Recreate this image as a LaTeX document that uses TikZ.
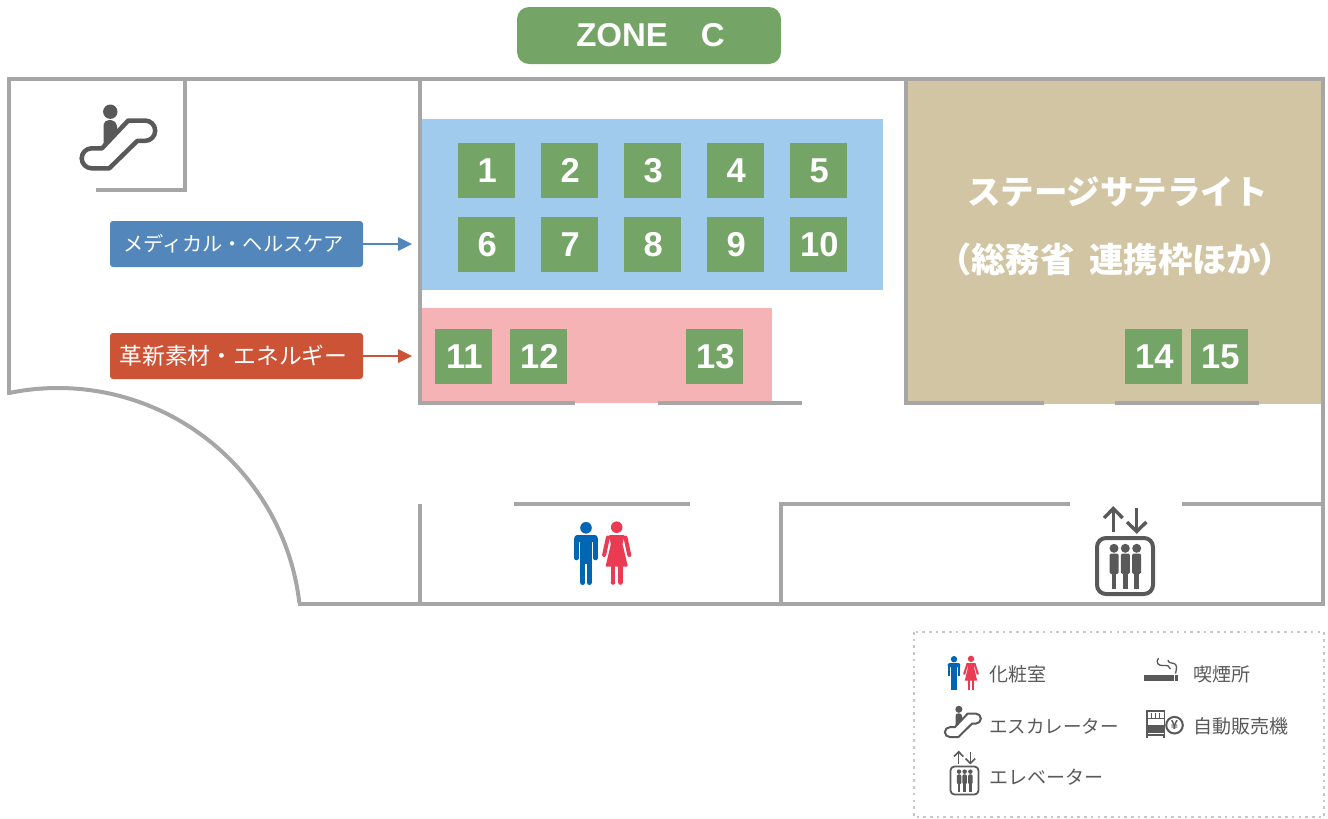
\documentclass[tikz,border=0pt]{standalone}
\usepackage{fontspec}
\setmainfont{Liberation Sans}
\newfontfamily\cjk{Noto Sans CJK JP}
\definecolor{wallc}{HTML}{A6A6A6}
\definecolor{greenc}{HTML}{74A566}
\definecolor{bluefill}{HTML}{A0CBEC}
\definecolor{pinkfill}{HTML}{F5B3B5}
\definecolor{tanfill}{HTML}{D2C5A3}
\definecolor{bluelab}{HTML}{5387BB}
\definecolor{redlab}{HTML}{CC5335}
\definecolor{icon}{HTML}{595959}
\definecolor{manc}{HTML}{0066B3}
\definecolor{womanc}{HTML}{EB3B52}
\definecolor{dotc}{HTML}{C8C8C8}
\newcommand{\bn}[1]{\raisebox{-1.2pt}{\hspace*{1.5pt}#1}}
\tikzset{
  x=1pt,y=-1pt,
  wall/.style={draw=wallc,line width=4pt,line cap=rect,line join=miter},
  booth/.style={fill=greenc,text=white,minimum width=57pt,minimum height=55pt,inner sep=0pt,font=\fontsize{34.5}{34.5}\selectfont\bfseries},
  lab/.style={rounded corners=3pt,minimum width=253pt,minimum height=46pt,inner sep=0pt,text=white,font=\cjk},
  legtext/.style={anchor=west,inner sep=0pt,text=icon,font=\cjk\fontsize{19}{19}\selectfont},
  stage/.style={text=white,inner sep=0pt,font=\cjk\bfseries\fontsize{33.5}{33.5}\selectfont},
}
\newcommand{\escpath}{%
  (47.3,15.5) -- (64,15.5) .. controls (69.6,15.5) and (74.2,20.1) .. (74.2,25.7)
  .. controls (74.2,31.3) and (69.6,35.9) .. (64,35.9) -- (56.3,35.9) -- (28.3,63.3) -- (10.7,63.3)
  .. controls (5.2,63.3) and (.7,58.8) .. (.7,53.3) .. controls (.7,47.8) and (5.2,43.3) .. (10.7,43.3)
  -- (21,43.3) -- cycle}
\newcommand{\escbody}{%
  \fill (29.3,6.7) circle (7.2);
  \fill[rounded corners=2pt] (22.5,18) -- (26,15) -- (32,15) -- (36,19) -- (36,27) -- (24,41) -- (22.5,43) -- cycle;
}
\newcommand{\manicon}{%
  \fill (0,5.8) circle (5.8);
  \fill[rounded corners=3pt] (-11.7,13) rectangle (11.7,20);
  \fill (-6,14) rectangle (6,42);
  \draw[line width=4.6pt,line cap=round] (-9.4,17) -- (-9.4,36);
  \draw[line width=4.6pt,line cap=round] (9.4,17) -- (9.4,36);
  \draw[line width=5.2pt,line cap=round] (-3.2,40) -- (-3.2,60.4);
  \draw[line width=5.2pt,line cap=round] (3.2,40) -- (3.2,60.4);
}
\newcommand{\womanicon}{%
  \fill (0,5.2) circle (5.8);
  \fill[rounded corners=1pt] (-8,13) -- (8,13) -- (5.8,22) -- (11.2,44.7) -- (-11.2,44.7) -- (-5.8,22) -- cycle;
  \draw[line width=4pt,line cap=round] (-8.8,15.5) -- (-12.6,33);
  \draw[line width=4pt,line cap=round] (8.8,15.5) -- (12.6,33);
  \fill (-6,44) rectangle (-1.4,60.5);
  \fill (1.4,44) rectangle (6,60.5);
  \fill (-3.7,60.5) circle (2.3) (3.7,60.5) circle (2.3);
}
\newcommand{\elevpeople}{%
  \foreach \px in {18,29.3,40.7}{
    \fill (\px,41.3) circle (4.5);
    \fill[rounded corners=1.5pt] (\px-4.5,46.5) rectangle (\px+4.5,67);
    \fill (\px-2.4,65) rectangle (\px+2.4,82);
  }
}
\begin{document}
\begin{tikzpicture}[x=1pt,y=-1pt]
\useasboundingbox (0,0) rectangle (1328,819);
% fills
\fill[bluefill] (421,119) rectangle (883,290);
\fill[pinkfill] (421,308) rectangle (772,403);
\fill[tanfill] (906,79) rectangle (1323,404);
% walls
\draw[wall] (9,393) -- (9,79.3) -- (1323,79.3) -- (1323,603.7) -- (300,603.7);
\draw[wall,line cap=butt] plot[domain=-101.6:-6.6,samples=80,smooth] ({58+243*cos(\x)},{631+243*sin(\x)});
\draw[wall] (185,79) -- (185,190) -- (98,190);
\draw[wall] (420,79) -- (420,403) -- (573,403);
\draw[wall] (660,403) -- (800,403);
\draw[wall] (906,79) -- (906,403) -- (1042,403);
\draw[wall] (1117,403) -- (1257,403);
\draw[wall] (420,506) -- (420,603);
\draw[wall] (516,504) -- (688,504);
\draw[wall] (1323,504) -- (1184,504);
\draw[wall] (1068,504) -- (781,504) -- (781,603);
% zone title
\node[fill=greenc,rounded corners=12pt,minimum width=264pt,minimum height=57pt,inner sep=0pt,text=white,font=\fontsize{33}{33}\selectfont\bfseries] (zone) at (649,35.5) {\hspace*{3pt}ZONE\hspace{33pt}C};
% booths
\node[booth] (b1) at (486.5,170.5) {\bn{1}};
\node[booth] (b2) at (569.5,170.5) {\bn{2}};
\node[booth] (b3) at (652.5,170.5) {\bn{3}};
\node[booth] (b4) at (735.5,170.5) {\bn{4}};
\node[booth] (b5) at (818.5,170.5) {\bn{5}};
\node[booth] (b6) at (486.5,244.5) {\bn{6}};
\node[booth] (b7) at (569.5,244.5) {\bn{7}};
\node[booth] (b8) at (652.5,244.5) {\bn{8}};
\node[booth] (b9) at (735.5,244.5) {\bn{9}};
\node[booth] (b10) at (818.5,244.5) {\bn{10}};
\node[booth] (b11) at (463.5,356.5) {\bn{11}};
\node[booth] (b12) at (538.5,356.5) {\bn{12}};
\node[booth] (b13) at (714.5,356.5) {\bn{13}};
\node[booth] (b14) at (1153.5,356.5) {\bn{14}};
\node[booth] (b15) at (1219.5,356.5) {\bn{15}};
% stage text
\node[stage] (st1) at (1117.5,192) {ステージサテライト};
\node[stage,anchor=west,font=\cjk\bfseries\fontsize{34.3}{34.3}\selectfont] (st2) at (937,259) {（総務省\hspace{15pt}連携枠ほか\hspace{-2pt}）};
% labels
\node[lab,fill=bluelab,font=\cjk\fontsize{20.2}{20.2}\selectfont] (med) at (236.5,244) {\hspace*{-6pt}メディカル・ヘルスケア};
\node[lab,fill=redlab,font=\cjk\fontsize{22.8}{22.8}\selectfont] (ene) at (236.5,356) {\hspace*{-6pt}革新素材・エネルギー};
\coordinate (medend) at (412,244);
\coordinate (eneend) at (412,356);
\draw[bluelab,line width=1.6pt] (med.east) -- (398,244);
\fill[bluelab] (398,237) -- (medend) -- (398,251) -- cycle;
\draw[redlab,line width=1.6pt] (ene.east) -- (398,356);
\fill[redlab] (398,349) -- (eneend) -- (398,363) -- cycle;
% icons on plan
\begin{scope}[shift={(81,105)},fill=icon,draw=icon]
  \escbody
  \draw[line width=4.5pt,line join=round] \escpath;
\end{scope}
\begin{scope}[shift={(586,522)},fill=manc,draw=manc]\manicon\end{scope}
\begin{scope}[shift={(616.7,522)},fill=womanc,draw=womanc]\womanicon\end{scope}
\begin{scope}[shift={(1096,507)},fill=icon,draw=icon]
  \draw[line width=3.4pt] (17.3,25) -- (17.3,1.5);
  \draw[line width=3.4pt,line join=miter] (8,11) -- (17.3,1.5) -- (26.6,11);
  \draw[line width=3.4pt] (40.7,1) -- (40.7,24.5);
  \draw[line width=3.4pt,line join=miter] (31,15) -- (40.7,24.5) -- (50.4,15);
  \draw[line width=4pt,rounded corners=9pt] (1,31) rectangle (57,87);
  \elevpeople
\end{scope}
% legend
\draw[dotc,line width=2.6pt,dash pattern=on 2.6pt off 4.1pt] (914,632) rectangle (1324,817);
\begin{scope}[shift={(954,656)},scale=.55,fill=manc]
  \fill (0,5.8) circle (5.8);
  \fill[rounded corners=2pt] (-11.7,13) rectangle (11.7,20);
  \fill (-6,14) rectangle (6,42);
  \fill (-11.7,15) rectangle (-7,36);
  \fill (7,15) rectangle (11.7,36);
  \fill (-6,40) rectangle (-.7,62);
  \fill (.7,40) rectangle (6,62);
\end{scope}
\begin{scope}[shift={(971,656)},scale=.55,fill=womanc]
  \fill (0,5.2) circle (5.8);
  \fill (-8,13) -- (8,13) -- (5.8,22) -- (11.2,44.7) -- (-11.2,44.7) -- (-5.8,22) -- cycle;
  \fill (-8,13) -- (-14.5,33) -- (-10.5,34) -- (-6,17) -- cycle;
  \fill (8,13) -- (14.5,33) -- (10.5,34) -- (6,17) -- cycle;
  \fill (-6,44) rectangle (-1.4,62);
  \fill (1.4,44) rectangle (6,62);
\end{scope}
\node[legtext] (t1) at (989,674.5) {化粧室};
\node[legtext,font=\cjk\fontsize{18.5}{18.5}\selectfont] (t2) at (989,726) {エスカレーター};
\node[legtext] (t3) at (989,777) {エレベーター};
\node[legtext] (t4) at (1193.5,674.5) {喫煙所};
\node[legtext] (t5) at (1193.5,726) {自動販売機};
% legend escalator
\begin{scope}[shift={(944.5,706)},scale=.49,fill=icon,draw=icon]
  \fill (29.3,6.7) circle (7.2);
  \fill[rounded corners=1pt] (22.5,18) -- (26,15) -- (32,15) -- (36,19) -- (36,27) -- (24,41) -- (22.5,43) -- cycle;
  \draw[line width=2pt,line join=round] \escpath;
\end{scope}
% legend elevator
\begin{scope}[shift={(950,751)},scale=.5,fill=icon,draw=icon]
  \draw[line width=1.6pt] (17.3,25) -- (17.3,1.5);
  \draw[line width=1.6pt] (8,11) -- (17.3,1.5) -- (26.6,11);
  \draw[line width=1.6pt] (40.7,1) -- (40.7,24.5);
  \draw[line width=1.6pt] (31,15) -- (40.7,24.5) -- (50.4,15);
  \draw[line width=1.8pt,rounded corners=4pt] (1,31) rectangle (57,87);
  \elevpeople
\end{scope}
% legend smoking
\fill[icon] (1144,674.7) rectangle (1173.6,680.7);
\fill[icon] (1175,674.7) rectangle (1177.7,680.7);
\draw[icon,line width=1.3pt] (1158.5,658) .. controls (1155,663) and (1159,666) .. (1163,665.5) .. controls (1167,665) and (1170,666) .. (1170.5,669);
\draw[icon,line width=1.3pt] (1168,660) .. controls (1168,663) and (1172,663) .. (1174,663.5) .. controls (1177,664.5) and (1177,668) .. (1175.5,673.5);
% legend vending
\draw[icon,line width=1.6pt] (1146.8,710.8) rectangle (1164.6,735);
\fill[icon] (1146.8,725) rectangle (1164.6,733);
\foreach \vx in {1150.5,1154.5,1158.5}{\fill[icon] (\vx,713) rectangle (\vx+.9,718);}
\fill[icon] (1146,718) rectangle (1165.4,719);
\fill[icon] (1146,735) rectangle (1148,738.3);
\fill[icon] (1163.4,735) rectangle (1165.4,738.3);
\draw[icon,fill=white,line width=2pt] (1174.5,725.2) circle (8.3);
\node[inner sep=0pt,text=icon,font=\fontsize{13}{13}\selectfont\bfseries] (yen) at (1174.5,725.2) {¥};
\end{tikzpicture}
\end{document}
